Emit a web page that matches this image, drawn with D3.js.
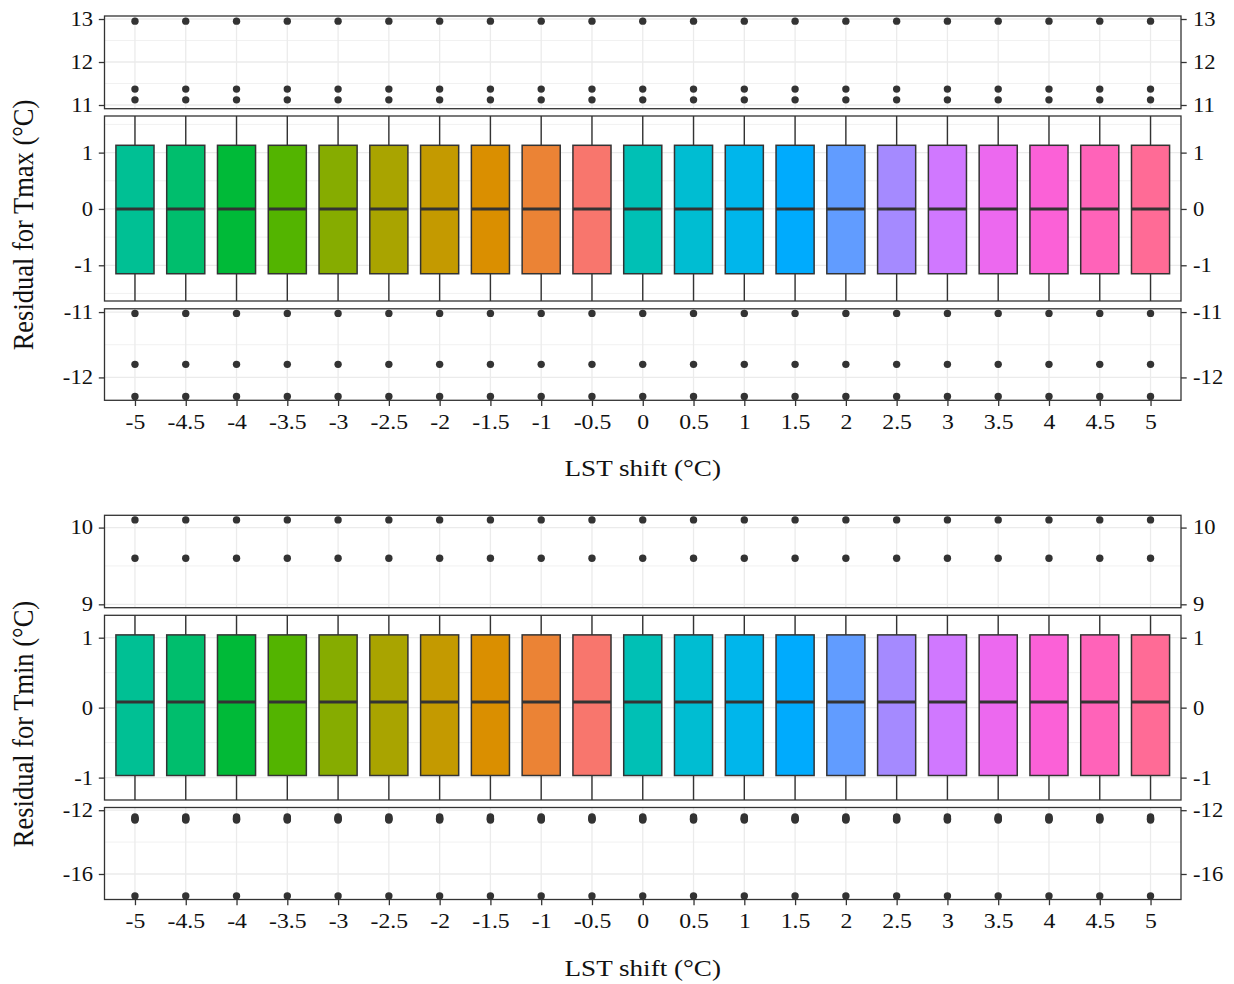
<!DOCTYPE html>
<html>
<head>
<meta charset="utf-8">
<script src="https://cdn.jsdelivr.net/npm/d3@7"></script>
<style>
  body { margin: 0; background: #fff; }
  svg { display: block; font-family: "Liberation Serif", "Times New Roman", serif; }
</style>
</head>
<body>
<svg width="1234" height="984"></svg>
<script>
// LST shift categories (x axis)
const shiftLabels = ["-5", "-4.5", "-4", "-3.5", "-3", "-2.5", "-2", "-1.5", "-1", "-0.5",
  "0", "0.5", "1", "1.5", "2", "2.5", "3", "3.5", "4", "4.5", "5"];

// Tmax residual boxplot stats, one value per shift
const tmaxQ1 = [-1.15, -1.15, -1.15, -1.15, -1.15, -1.15, -1.15, -1.15, -1.15, -1.15, -1.15,
  -1.15, -1.15, -1.15, -1.15, -1.15, -1.15, -1.15, -1.15, -1.15, -1.15];
const tmaxMedian = [0, 0, 0, 0, 0, 0, 0, 0, 0, 0, 0, 0, 0, 0, 0, 0, 0, 0, 0, 0, 0];
const tmaxQ3 = [1.13, 1.13, 1.13, 1.13, 1.13, 1.13, 1.13, 1.13, 1.13, 1.13, 1.13,
  1.13, 1.13, 1.13, 1.13, 1.13, 1.13, 1.13, 1.13, 1.13, 1.13];
const tmaxWhiskerLow = [-3, -3, -3, -3, -3, -3, -3, -3, -3, -3, -3, -3, -3, -3, -3, -3, -3, -3, -3, -3, -3];
const tmaxWhiskerHigh = [3, 3, 3, 3, 3, 3, 3, 3, 3, 3, 3, 3, 3, 3, 3, 3, 3, 3, 3, 3, 3];
const tmaxOutliers = [12.95, 11.37, 11.12, -11.02, -11.8, -12.29];

// Tmin residual boxplot stats
const tminQ1 = [-0.97, -0.97, -0.97, -0.97, -0.97, -0.97, -0.97, -0.97, -0.97, -0.97, -0.97,
  -0.97, -0.97, -0.97, -0.97, -0.97, -0.97, -0.97, -0.97, -0.97, -0.97];
const tminMedian = [0.08, 0.08, 0.08, 0.08, 0.08, 0.08, 0.08, 0.08, 0.08, 0.08, 0.08,
  0.08, 0.08, 0.08, 0.08, 0.08, 0.08, 0.08, 0.08, 0.08, 0.08];
const tminQ3 = [1.04, 1.04, 1.04, 1.04, 1.04, 1.04, 1.04, 1.04, 1.04, 1.04, 1.04,
  1.04, 1.04, 1.04, 1.04, 1.04, 1.04, 1.04, 1.04, 1.04, 1.04];
const tminWhiskerLow = [-3, -3, -3, -3, -3, -3, -3, -3, -3, -3, -3, -3, -3, -3, -3, -3, -3, -3, -3, -3, -3];
const tminWhiskerHigh = [3, 3, 3, 3, 3, 3, 3, 3, 3, 3, 3, 3, 3, 3, 3, 3, 3, 3, 3, 3, 3];
const tminOutliers = [10.1, 9.6, -12.43, -12.5, -12.56, -12.62, -17.38];

// y tick values for each broken-axis segment (top, middle, bottom)
const tmaxTicks = [[11, 12, 13], [-1, 0, 1], [-12, -11]];
const tmaxMinor = [[11.5, 12.5], [-1.5, -0.5, 0.5, 1.5], [-11.5]];
const tminTicks = [[9, 10], [-1, 0, 1], [-16, -12]];
const tminMinor = [[9.5], [-0.5, 0.5], [-14]];

const svg = d3.select("svg");
const xLeft = 104.5, xRight = 1181;
const stretch = "scale(1.13,1)"; // the source image text is a bit wide

const x = d3.scalePoint().domain(shiftLabels).range([xLeft, xRight]).padding(0.6);
const boxW = x.step() * 0.75;

// ggplot2 hue_pal (polar LUV -> sRGB); levels get hues in string-sorted order
function hclHex(h, c, l) {
  const hr = h * Math.PI / 180;
  const u = c * Math.cos(hr), v = c * Math.sin(hr);
  const Xn = 95.047, Yn = 100, Zn = 108.883;
  const den = Xn + 15 * Yn + 3 * Zn;
  const un = 4 * Xn / den, vn = 9 * Yn / den;
  const Y = Yn * Math.pow((l + 16) / 116, 3);
  const up = u / (13 * l) + un, vp = v / (13 * l) + vn;
  const X = 9 * Y * up / (4 * vp);
  const Z = Y * (12 - 3 * up - 20 * vp) / (4 * vp);
  const xx = X / 100, yy = Y / 100, zz = Z / 100;
  const lin = [
    3.240479 * xx - 1.53715 * yy - 0.498535 * zz,
    -0.969256 * xx + 1.875992 * yy + 0.041556 * zz,
    0.055648 * xx - 0.204043 * yy + 1.057311 * zz
  ];
  const g = lin.map(t => {
    const s = t <= 0.0031308 ? 12.92 * t : 1.055 * Math.pow(t, 1 / 2.4) - 0.055;
    return Math.round(Math.max(0, Math.min(1, s)) * 255);
  });
  return d3.rgb(g[0], g[1], g[2]).formatHex();
}
const sortedLevels = shiftLabels.slice().sort();
const color = d3.scaleOrdinal()
  .domain(sortedLevels)
  .range(sortedLevels.map((d, i) => hclHex(15 + i * 360 / sortedLevels.length, 100, 65)));

const charts = [
  {
    title: "Residual for Tmax (°C)", titleY: 225,
    q1: tmaxQ1, med: tmaxMedian, q3: tmaxQ3, lo: tmaxWhiskerLow, hi: tmaxWhiskerHigh,
    outliers: tmaxOutliers, ticks: tmaxTicks, minor: tmaxMinor,
    panels: [
      { y0: 16, y1: 108.7, domain: [10.914, 13.07] },
      { y0: 116, y1: 301, domain: [-1.634, 1.65] },
      { y0: 308.8, y1: 400.3, domain: [-12.35, -10.95] }
    ]
  },
  {
    title: "Residual for Tmin (°C)", titleY: 724,
    q1: tminQ1, med: tminMedian, q3: tminQ3, lo: tminWhiskerLow, hi: tminWhiskerHigh,
    outliers: tminOutliers, ticks: tminTicks, minor: tminMinor,
    panels: [
      { y0: 515.3, y1: 607.7, domain: [8.956, 10.16] },
      { y0: 615.3, y1: 800, domain: [-1.32, 1.32] },
      { y0: 807.5, y1: 899.5, domain: [-17.6, -11.83] }
    ]
  }
];

let clipId = 0;

charts.forEach(chart => {
  chart.panels.forEach((p, pi) => {
    const y = d3.scaleLinear().domain(p.domain).range([p.y1, p.y0]);
    const id = "clip" + (clipId++);
    svg.append("clipPath").attr("id", id)
      .append("rect").attr("x", xLeft).attr("y", p.y0)
      .attr("width", xRight - xLeft).attr("height", p.y1 - p.y0);

    const g = svg.append("g").attr("clip-path", `url(#${id})`);

    // grid
    g.selectAll(".minor").data(chart.minor[pi]).join("line")
      .attr("x1", xLeft).attr("x2", xRight)
      .attr("y1", d => y(d)).attr("y2", d => y(d))
      .attr("stroke", "#ebebeb").attr("stroke-width", 0.7);
    g.selectAll(".major").data(chart.ticks[pi]).join("line")
      .attr("x1", xLeft).attr("x2", xRight)
      .attr("y1", d => y(d)).attr("y2", d => y(d))
      .attr("stroke", "#ebebeb").attr("stroke-width", 1.3);
    g.selectAll(".vgrid").data(shiftLabels).join("line")
      .attr("x1", d => x(d)).attr("x2", d => x(d))
      .attr("y1", p.y0).attr("y2", p.y1)
      .attr("stroke", "#ebebeb").attr("stroke-width", 1.3);

    // whiskers
    g.selectAll(".whisk").data(shiftLabels).join("line")
      .attr("x1", d => x(d)).attr("x2", d => x(d))
      .attr("y1", (d, i) => y(chart.lo[i])).attr("y2", (d, i) => y(chart.hi[i]))
      .attr("stroke", "#333").attr("stroke-width", 1.4);

    // boxes
    g.selectAll(".box").data(shiftLabels).join("rect")
      .attr("x", d => x(d) - boxW / 2).attr("width", boxW)
      .attr("y", (d, i) => y(chart.q3[i]))
      .attr("height", (d, i) => y(chart.q1[i]) - y(chart.q3[i]))
      .attr("fill", d => color(d))
      .attr("stroke", "#333").attr("stroke-width", 1.5);

    g.selectAll(".med").data(shiftLabels).join("line")
      .attr("x1", d => x(d) - boxW / 2).attr("x2", d => x(d) + boxW / 2)
      .attr("y1", (d, i) => y(chart.med[i])).attr("y2", (d, i) => y(chart.med[i]))
      .attr("stroke", "#333").attr("stroke-width", 3);

    // outliers
    const pts = shiftLabels.flatMap(s => chart.outliers.map(v => ({ s, v })));
    g.selectAll(".pt").data(pts).join("circle")
      .attr("cx", d => x(d.s)).attr("cy", d => y(d.v)).attr("r", 3.7)
      .attr("fill", "#333");

    // panel border
    svg.append("rect")
      .attr("x", xLeft).attr("y", p.y0)
      .attr("width", xRight - xLeft).attr("height", p.y1 - p.y0)
      .attr("fill", "none").attr("stroke", "#333").attr("stroke-width", 1.3);

    // y axes on both sides
    const fmt = d => String(d);
    const left = svg.append("g").attr("transform", `translate(${xLeft},0)`)
      .call(d3.axisLeft(y).tickValues(chart.ticks[pi]).tickFormat(fmt).tickSize(5.7).tickPadding(4.5));
    const right = svg.append("g").attr("transform", `translate(${xRight},0)`)
      .call(d3.axisRight(y).tickValues(chart.ticks[pi]).tickFormat(fmt).tickSize(5.7).tickPadding(5));
    [left, right].forEach(a => {
      a.select(".domain").remove();
      a.selectAll("line").attr("stroke", "#333").attr("stroke-width", 1.3);
      a.selectAll("text").attr("font-size", 20).attr("fill", "#111")
        .attr("font-family", "Liberation Serif").attr("transform", stretch);
    });

    // x axis under the bottom segment
    if (pi === chart.panels.length - 1) {
      const ax = svg.append("g").attr("transform", `translate(0,${p.y1})`)
        .call(d3.axisBottom(x).tickSize(5.7).tickPadding(8));
      ax.select(".domain").remove();
      ax.selectAll("line").attr("stroke", "#333").attr("stroke-width", 1.3);
      ax.selectAll("text").attr("font-size", 21).attr("fill", "#111")
        .attr("font-family", "Liberation Serif").attr("transform", stretch);

      svg.append("text")
        .attr("transform", `translate(${(xLeft + xRight) / 2},${p.y1 + 76}) ${stretch}`)
        .attr("text-anchor", "middle").attr("font-size", 24).attr("fill", "#111")
        .text("LST shift (°C)");
    }
  });

  svg.append("text")
    .attr("transform", `translate(33,${chart.titleY}) ${stretch} rotate(-90)`)
    .attr("text-anchor", "middle").attr("font-size", 26.5).attr("fill", "#111")
    .text(chart.title);
});
</script>
</body>
</html>
